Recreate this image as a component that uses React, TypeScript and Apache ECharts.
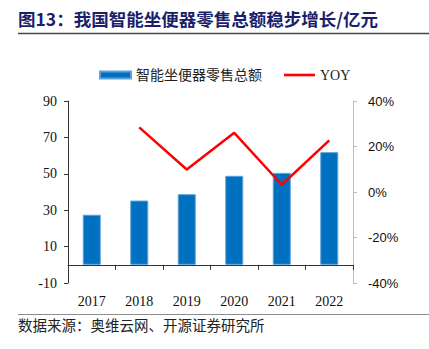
import React, { useEffect, useRef } from "react";
import * as echarts from "echarts";

const years = ["2017", "2018", "2019", "2020", "2021", "2022"];
const salesValues = [27.5, 35.3, 38.8, 48.9, 50.5, 61.9];
const yoyValues: (number | null)[] = [null, 28.4, 9.9, 26.0, 3.2, 22.7];
const titleText = "图13：我国智能坐便器零售总额稳步增长/亿元";
const sourceText = "数据来源：奥维云网、开源证券研究所";
const barName = "智能坐便器零售总额";
const lineName = "YOY";

export default function App() {
  const ref = useRef<HTMLDivElement>(null);
  useEffect(() => {
    if (!ref.current) return;
    const chart = echarts.init(ref.current, null, { renderer: "svg" });
    chart.setOption({
      animation: false,
      backgroundColor: "#ffffff",
      graphic: [
        {
          type: "text",
          left: 18,
          top: 10,
          style: {
            text: titleText,
            font: "bold 17.5px 'Noto Sans CJK SC', sans-serif",
            fill: "#1b1f6b",
          },
        },
        {
          type: "line",
          shape: { x1: 18, y1: 33.5, x2: 429, y2: 33.5 },
          style: { stroke: "#444444", lineWidth: 1.5 },
        },
        {
          type: "line",
          shape: { x1: 18, y1: 314.5, x2: 429, y2: 314.5 },
          style: { stroke: "#8c8c8c", lineWidth: 1 },
        },
        {
          type: "text",
          left: 18,
          top: 317,
          style: {
            text: sourceText,
            font: "14.5px 'Noto Sans CJK SC', sans-serif",
            fill: "#222222",
          },
        },
      ],
      legend: {
        left: 94,
        top: 63,
        itemWidth: 31,
        itemHeight: 7,
        itemGap: 22,
        textStyle: {
          fontFamily: "'Liberation Serif', 'Noto Sans CJK SC', serif",
          fontSize: 14,
          color: "#222222",
        },
        data: [
          { name: barName, icon: "rect" },
          { name: lineName, icon: "path://M0,0H31V2.6H0Z", itemStyle: { color: "#ff0000" } },
        ],
      },
      grid: { left: 68, right: 76, top: 101, bottom: 66 },
      xAxis: {
        type: "category",
        data: years,
        axisLine: { onZero: true, lineStyle: { color: "#333333", width: 1 } },
        axisTick: { show: true, length: 5, lineStyle: { color: "#333333" } },
        axisLabel: {
          margin: 11,
          fontFamily: "'Liberation Serif', serif",
          fontSize: 14,
          color: "#111111",
        },
      },
      yAxis: [
        {
          type: "value",
          min: -10,
          max: 90,
          interval: 20,
          splitLine: { show: false },
          axisLine: { show: true, onZero: false, lineStyle: { color: "#333333" } },
          axisTick: { show: true, length: 4, lineStyle: { color: "#333333" } },
          axisLabel: {
            margin: 11,
            fontFamily: "'Liberation Serif', serif",
            fontSize: 14,
            color: "#111111",
          },
        },
        {
          type: "value",
          min: -40,
          max: 40,
          interval: 20,
          position: "right",
          splitLine: { show: false },
          axisLine: { show: true, onZero: false, lineStyle: { color: "#bfbfbf" } },
          axisTick: { show: true, length: 4, lineStyle: { color: "#bfbfbf" } },
          axisLabel: {
            margin: 15,
            formatter: "{value}%",
            fontFamily: "'Liberation Sans', sans-serif",
            fontSize: 13,
            color: "#111111",
          },
        },
      ],
      series: [
        {
          name: barName,
          type: "bar",
          data: salesValues,
          barWidth: 18,
          itemStyle: { color: "#0070c0", borderColor: "#5fa0d8", borderWidth: 1 },
        },
        {
          name: lineName,
          type: "line",
          yAxisIndex: 1,
          data: yoyValues,
          symbol: "none",
          lineStyle: { color: "#ff0000", width: 2.5 },
          itemStyle: { color: "#ff0000" },
        },
      ],
    });
    return () => chart.dispose();
  }, []);
  return <div ref={ref} style={{ width: 429, height: 349, position: "absolute", left: 0, top: 0 }} />;
}
